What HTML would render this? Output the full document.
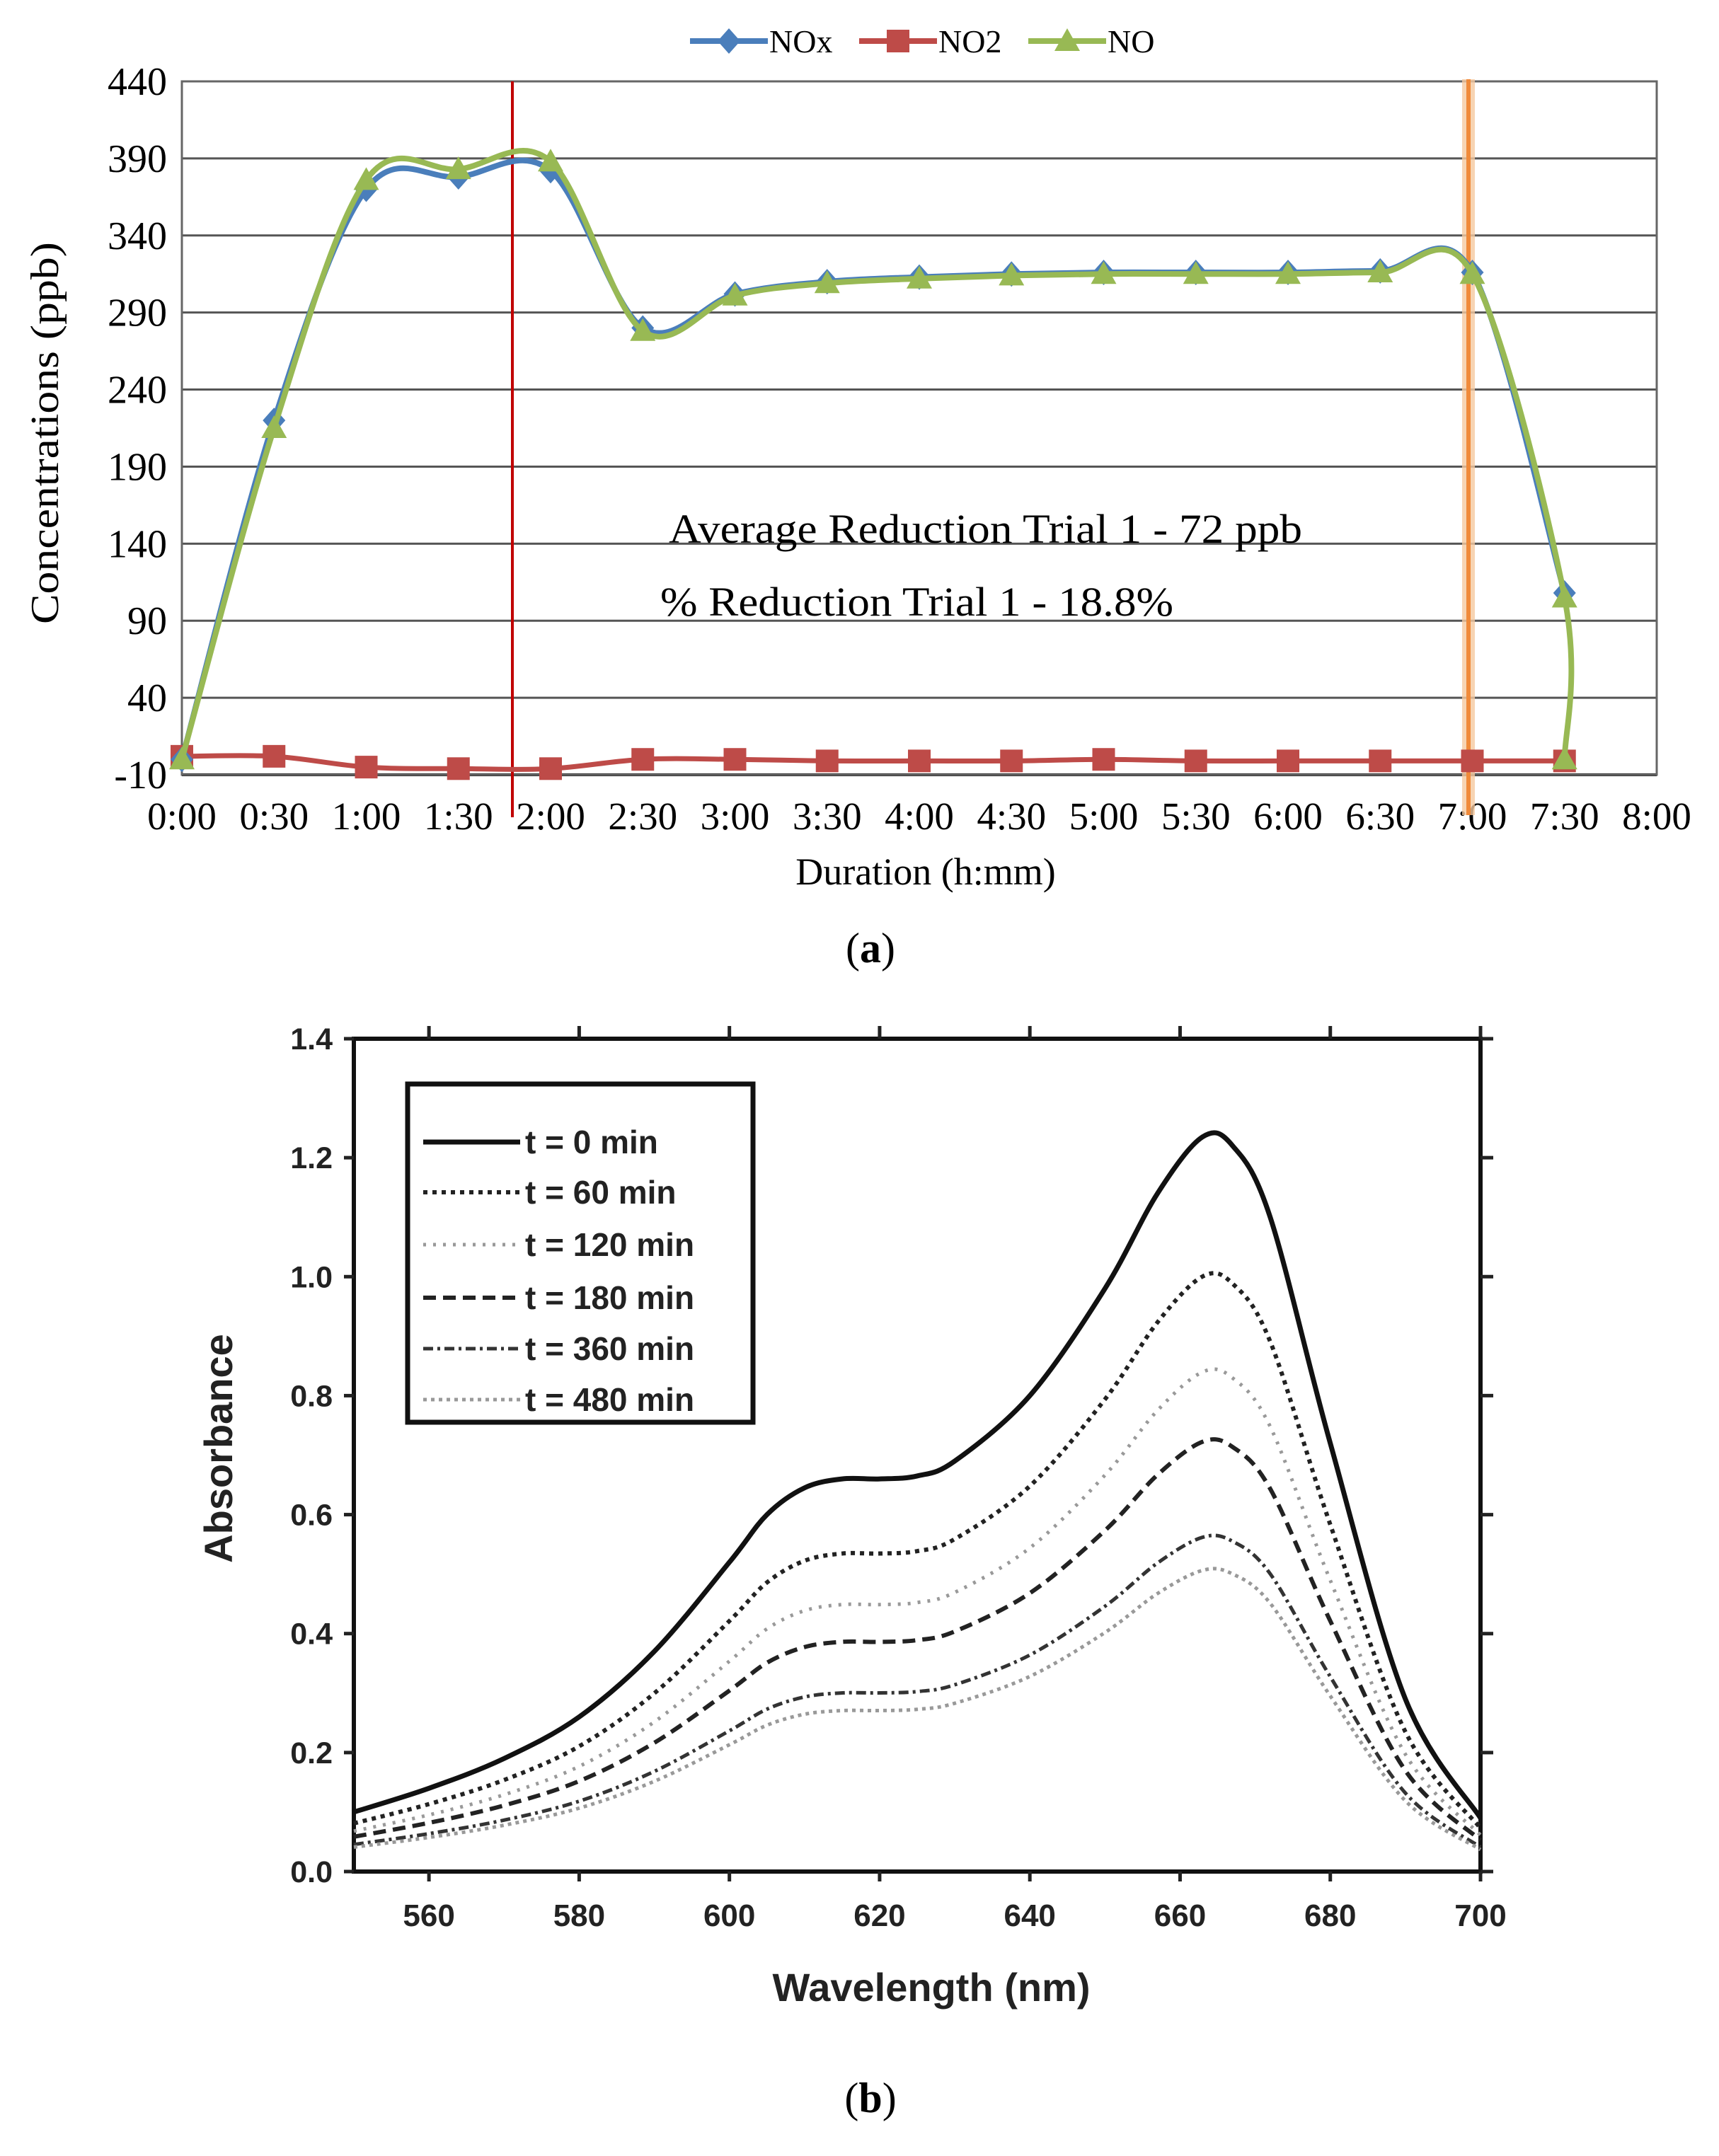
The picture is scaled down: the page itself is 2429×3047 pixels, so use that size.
<!DOCTYPE html>
<html><head><meta charset="utf-8"><style>
html,body{margin:0;padding:0;background:#fff}
svg{display:block}
</style></head><body>
<svg id="s" width="2429" height="3047" viewBox="0 0 2429 3047" xmlns="http://www.w3.org/2000/svg">
<rect width="2429" height="3047" fill="#fff"/>
<g id="a"></g>
<g id="b"></g>
<text x="1230" y="1360" font-family="Liberation Serif, serif" font-size="60" text-anchor="middle">(<tspan font-weight="bold">a</tspan>)</text>
<text x="1230" y="2985" font-family="Liberation Serif, serif" font-size="60" text-anchor="middle">(<tspan font-weight="bold">b</tspan>)</text>
</svg>
<script>
const NS="http://www.w3.org/2000/svg";
function el(p,t,a,txt){const e=document.createElementNS(NS,t);for(const k in a)e.setAttribute(k,a[k]);if(txt!==undefined)e.textContent=txt;p.appendChild(e);return e;}
function cr(pts){let d="M"+pts[0][0]+","+pts[0][1];for(let i=0;i<pts.length-1;i++){const p0=pts[i-1]||pts[i],p1=pts[i],p2=pts[i+1],p3=pts[i+2]||p2;
const c1=[p1[0]+(p2[0]-p0[0])/6,p1[1]+(p2[1]-p0[1])/6],c2=[p2[0]-(p3[0]-p1[0])/6,p2[1]-(p3[1]-p1[1])/6];d+=" C"+c1+" "+c2+" "+p2;}return d;}
const SF="Liberation Serif, serif";
// ---- chart a
const A=document.getElementById("a");
const L=257,R=2341,T=115,B=1095;
const X=i=>L+i*(R-L)/16, Y=v=>B-(v+10)*(B-T)/450;
for(let v=-10;v<=440;v+=50){el(A,"line",{x1:L,x2:R,y1:Y(v),y2:Y(v),stroke:v==-10?"#000":"#555","stroke-width":v==-10?4:3});
el(A,"text",{x:236,y:Y(v)+19,"font-family":SF,"font-size":56,"text-anchor":"end"},String(v));}
el(A,"rect",{x:L,y:T,width:R-L,height:B-T,fill:"none",stroke:"#666","stroke-width":3});
const tl=["0:00","0:30","1:00","1:30","2:00","2:30","3:00","3:30","4:00","4:30","5:00","5:30","6:00","6:30","7:00","7:30","8:00"];
tl.forEach((s,i)=>el(A,"text",{x:X(i),y:1172,"font-family":SF,"font-size":55,"text-anchor":"middle"},s));
el(A,"text",{x:1308,y:1250,"font-family":SF,"font-size":54,"text-anchor":"middle"},"Duration (h:mm)");
el(A,"text",{x:0,y:0,transform:"translate(82,612) rotate(-90)","font-family":SF,"font-size":56,"text-anchor":"middle",textLength:540,lengthAdjust:"spacingAndGlyphs"},"Concentrations (ppb)");
el(A,"text",{x:945,y:767,"font-family":SF,"font-size":58,textLength:895,lengthAdjust:"spacingAndGlyphs"},"Average Reduction Trial 1 - 72 ppb");
el(A,"text",{x:933,y:870,"font-family":SF,"font-size":58,textLength:725,lengthAdjust:"spacingAndGlyphs"},"% Reduction Trial 1 - 18.8%");
el(A,"rect",{x:2066,y:112,width:18,height:1040,fill:"#f5c9a0",opacity:0.8});
el(A,"line",{x1:2075,x2:2075,y1:112,y2:1152,stroke:"#f08a3a","stroke-width":6});
el(A,"line",{x1:724,x2:724,y1:115,y2:1155,stroke:"#c00000","stroke-width":4});
const nox=[0,220,370,378,382,280,302,310,313,315,316,316,316,317,316,108];
const no=[0,215,376,383,388,278,301,309,312,314,315,315,315,316,315,105];
const no2=[2,2,-5,-6,-6,0,0,-1,-1,-1,0,-1,-1,-1,-1,-1];
const pN=nox.map((v,i)=>[X(i),Y(v)]);
const pO=no.map((v,i)=>[X(i),Y(v)]);pO.push([X(15),Y(0)]);
const p2=no2.map((v,i)=>[X(i),Y(v)]);
el(A,"path",{d:cr(p2),fill:"none",stroke:"#be4b48","stroke-width":7});
p2.forEach(p=>el(A,"rect",{x:p[0]-16,y:p[1]-16,width:32,height:32,fill:"#be4b48"}));
el(A,"path",{d:cr(pN),fill:"none",stroke:"#4a7ebb","stroke-width":8});
pN.forEach(p=>el(A,"path",{d:`M${p[0]},${p[1]-18} l16,18 l-16,18 l-16,-18z`,fill:"#4a7ebb"}));
el(A,"path",{d:cr(pO),fill:"none",stroke:"#98b954","stroke-width":8});
pO.forEach(p=>el(A,"path",{d:`M${p[0]},${p[1]-18} l18,32 l-36,0z`,fill:"#98b954"}));
function lg(x,col,shape,txt){el(A,"line",{x1:x,x2:x+110,y1:58,y2:58,stroke:col,"stroke-width":8});
 const c=x+55; if(shape=="d")el(A,"path",{d:`M${c},40 l16,18 l-16,18 l-16,-18z`,fill:col});
 else if(shape=="s")el(A,"rect",{x:c-16,y:42,width:32,height:32,fill:col});
 else el(A,"path",{d:`M${c},40 l18,32 l-36,0z`,fill:col});
 el(A,"text",{x:x+112,y:74,"font-family":SF,"font-size":46},txt);}
lg(975,"#4a7ebb","d","NOx");lg(1214,"#be4b48","s","NO2");lg(1453,"#98b954","t","NO");
// ---- chart b
const Bg=document.getElementById("b");
const bl=500,br=2092,bt=1468,bb=2645;
const BX=w=>bl+(w-550)*(br-bl)/150, BY=a=>bb-a*(bb-bt)/1.4;
const F="Liberation Sans, Arial, sans-serif";
el(Bg,"rect",{x:bl,y:bt,width:br-bl,height:bb-bt,fill:"none",stroke:"#111","stroke-width":6});
for(let w=560;w<=700;w+=20){el(Bg,"line",{x1:BX(w),x2:BX(w),y1:bt,y2:bt-18,stroke:"#222","stroke-width":5});
 el(Bg,"line",{x1:BX(w),x2:BX(w),y1:bb,y2:bb+14,stroke:"#222","stroke-width":5});
 el(Bg,"text",{x:BX(w),y:2722,"font-family":F,"font-size":44,"font-weight":"bold","text-anchor":"middle",fill:"#222"},String(w));}
for(let a=0;a<=1.41;a+=0.2){el(Bg,"line",{x1:br,x2:br+18,y1:BY(a),y2:BY(a),stroke:"#222","stroke-width":5});
 el(Bg,"line",{x1:bl,x2:bl-14,y1:BY(a),y2:BY(a),stroke:"#222","stroke-width":5});
 el(Bg,"text",{x:470,y:BY(a)+15,"font-family":F,"font-size":43,"font-weight":"bold","text-anchor":"end",fill:"#222"},a.toFixed(1));}
el(Bg,"text",{x:1316,y:2828,"font-family":F,"font-size":56,"font-weight":"bold","text-anchor":"middle",fill:"#222"},"Wavelength (nm)");
el(Bg,"text",{x:0,y:0,transform:"translate(328,2047) rotate(-90)","font-family":F,"font-size":56,"font-weight":"bold","text-anchor":"middle",fill:"#222"},"Absorbance");
const t0=[[550,.10],[560,.14],[570,.19],[580,.26],[590,.37],[600,.52],[605,.60],[610,.645],[615,.66],[620,.66],[625,.665],[630,.69],[640,.80],[650,.98],[657,1.14],[663,1.235],[667,1.22],[672,1.10],[680,.72],[690,.29],[700,.09]];
const styles=[
 {s:1,c:"#111",w:7,d:""},
 {s:.81,c:"#222",w:6,d:"6 7"},
 {s:.68,c:"#999",w:5,d:"4 10"},
 {s:.585,c:"#222",w:6,d:"18 10"},
 {s:.455,c:"#333",w:5,d:"14 6 4 6"},
 {s:.41,c:"#999",w:5,d:"5 6"}];
styles.forEach(st=>{const pts=t0.map(p=>[BX(p[0]),BY(p[1]*st.s)]);
 el(Bg,"path",{d:cr(pts),fill:"none",stroke:st.c,"stroke-width":st.w,"stroke-dasharray":st.d});});
el(Bg,"rect",{x:576,y:1532,width:488,height:478,fill:"#fff",stroke:"#111","stroke-width":7});
const lt=["t = 0 min","t = 60 min","t = 120 min","t = 180 min","t = 360 min","t = 480 min"];
const ly=[1614,1685,1759,1834,1906,1978];
styles.forEach((st,i)=>{el(Bg,"line",{x1:598,x2:735,y1:ly[i],y2:ly[i],stroke:st.c,"stroke-width":st.w,"stroke-dasharray":st.d});
 el(Bg,"text",{x:742,y:ly[i]+16,"font-family":F,"font-size":46,"font-weight":"bold",fill:"#222"},lt[i]);});
</script>
</body></html>
